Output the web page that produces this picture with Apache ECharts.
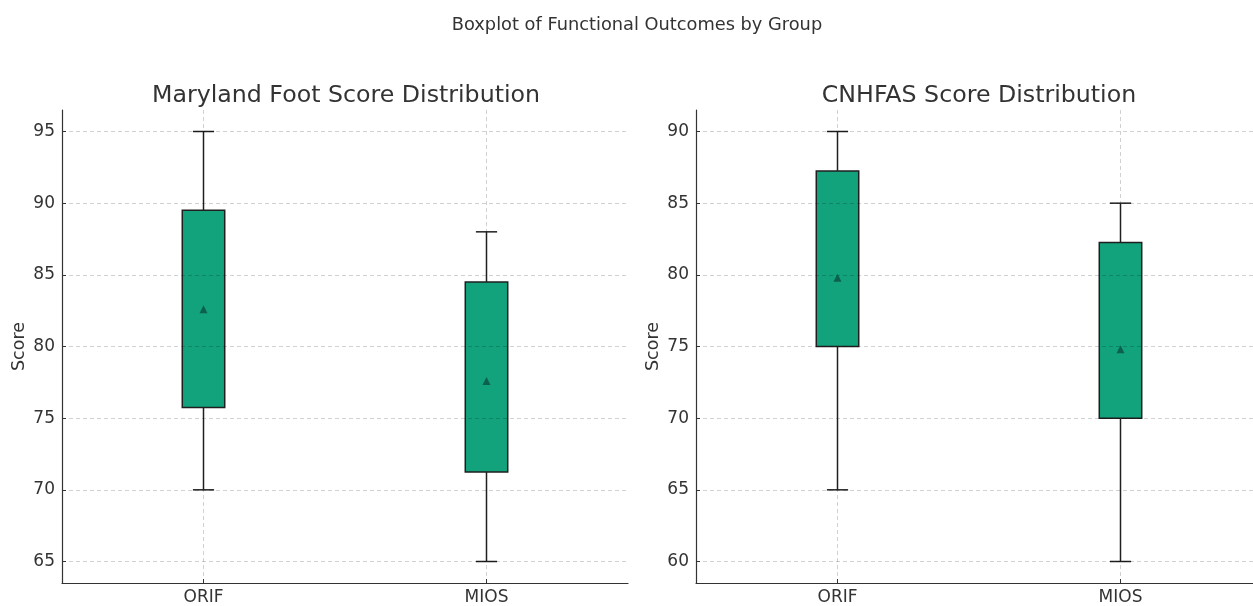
<!DOCTYPE html>
<html>
<head>
<meta charset="utf-8">
<script src="https://cdn.jsdelivr.net/npm/echarts@6/dist/echarts.min.js"></script>
<style>
html,body{margin:0;padding:0;background:#fff;overflow:hidden;}
#chart{width:1270px;height:606px;}
</style>
</head>
<body>
<div id="chart"></div>
<script>
const categories = ['ORIF', 'MIOS'];

// Maryland Foot Score
const marylandMin    = [70, 65];
const marylandQ1     = [75.75, 71.25];
const marylandMedian = [84, 77];
const marylandQ3     = [89.5, 84.5];
const marylandMax    = [95, 88];
const marylandMean   = [82.6, 77.6];

// CNHFAS Score
const cnhfasMin    = [65, 60];
const cnhfasQ1     = [75, 70];
const cnhfasMedian = [80, 75];
const cnhfasQ3     = [87.25, 82.25];
const cnhfasMax    = [90, 85];
const cnhfasMean   = [79.8, 74.8];

// axis ranges (tick labels every 5 inside these)
const maryRange = [63.5, 96.5];
const cnhRange = [58.5, 91.5];

const FILL = '#12a37c';
const EDGE = '#1f1f1f';
const MEANC = '#0b5040';
const FONT = 'DejaVu Sans';

function boxData(mn, q1, md, q3, mx) {
  return categories.map((c, i) => [i, mn[i], q1[i], md[i], q3[i], mx[i]]);
}

function renderBox(params, api) {
  const x = api.value(0);
  const band = api.size([1, 0])[0];
  const bw = band * 0.15;
  const cw = band * 0.075;
  const pMin = api.coord([x, api.value(1)]);
  const pQ1 = api.coord([x, api.value(2)]);
  const pMed = api.coord([x, api.value(3)]);
  const pQ3 = api.coord([x, api.value(4)]);
  const pMax = api.coord([x, api.value(5)]);
  const cx = pMin[0];
  const lineStyle = {stroke: EDGE, lineWidth: 1.5, fill: null};
  return {
    type: 'group',
    children: [
      {type: 'line', shape: {x1: cx, y1: pMax[1], x2: cx, y2: pQ3[1]}, style: lineStyle},
      {type: 'line', shape: {x1: cx, y1: pQ1[1], x2: cx, y2: pMin[1]}, style: lineStyle},
      {type: 'line', shape: {x1: cx - cw / 2, y1: pMax[1], x2: cx + cw / 2, y2: pMax[1]}, style: lineStyle},
      {type: 'line', shape: {x1: cx - cw / 2, y1: pMin[1], x2: cx + cw / 2, y2: pMin[1]}, style: lineStyle},
      {type: 'rect', shape: {x: cx - bw / 2, y: pQ3[1], width: bw, height: pQ1[1] - pQ3[1]},
        style: {fill: FILL, stroke: EDGE, lineWidth: 1.5}},
      {type: 'line', shape: {x1: cx - bw / 2 + 1, y1: pMed[1], x2: cx + bw / 2 - 1, y2: pMed[1]},
        style: {stroke: FILL, lineWidth: 1.5}}
    ]
  };
}

function xAxisCfg(idx) {
  return {
    type: 'category', gridIndex: idx, data: categories, boundaryGap: true,
    axisLine: {show: true, lineStyle: {color: '#333', width: 1.2}},
    axisTick: {show: true, inside: true, alignWithLabel: true, length: 4, lineStyle: {color: '#333'}},
    axisLabel: {color: '#333', fontSize: 17, fontFamily: FONT, margin: 6},
    splitLine: {show: true, alignWithLabel: true, lineStyle: {color: 'rgba(0,0,0,0.18)', type: [4, 3], width: 1}},
    z: 0
  };
}
function yAxisCfg(idx, range) {
  return {
    type: 'value', gridIndex: idx, min: range[0], max: range[1], splitNumber: 5,
    name: 'Score', nameLocation: 'middle', nameGap: 34, nameRotate: 90,
    nameTextStyle: {color: '#333', fontSize: 17.5, fontFamily: FONT},
    axisLine: {show: true, lineStyle: {color: '#333', width: 1.2}},
    axisTick: {show: true, inside: true, length: 4, lineStyle: {color: '#333'}},
    axisLabel: {color: '#333', fontSize: 17, fontFamily: FONT, margin: 7,
      showMinLabel: false, showMaxLabel: false,
      formatter: v => (Number.isInteger(v) ? String(v) : '')},
    splitLine: {show: true, showMinLine: false, showMaxLine: false,
      lineStyle: {color: 'rgba(0,0,0,0.18)', type: [4, 3], width: 1}},
    z: 5
  };
}

const chart = echarts.init(document.getElementById('chart'), null, {renderer: 'canvas'});
chart.setOption({
  backgroundColor: '#fff',
  animation: false,
  title: [
    {text: 'Boxplot of Functional Outcomes by Group', left: 632, top: 11, textAlign: 'center',
      textStyle: {color: '#333', fontSize: 17.8, fontWeight: 'normal', fontFamily: FONT}},
    {text: 'Maryland Foot Score Distribution', left: 341, top: 79, textAlign: 'center',
      textStyle: {color: '#333', fontSize: 23.7, fontWeight: 'normal', fontFamily: FONT}},
    {text: 'CNHFAS Score Distribution', left: 974, top: 79, textAlign: 'center',
      textStyle: {color: '#333', fontSize: 23.7, fontWeight: 'normal', fontFamily: FONT}}
  ],
  grid: [
    {left: 62, top: 110, width: 566, height: 475},
    {left: 696, top: 110, width: 566, height: 475}
  ],
  xAxis: [xAxisCfg(0), xAxisCfg(1)],
  yAxis: [yAxisCfg(0, maryRange), yAxisCfg(1, cnhRange)],
  series: [
    {type: 'custom', xAxisIndex: 0, yAxisIndex: 0, renderItem: renderBox, z: 2,
      encode: {x: 0, y: [1, 2, 3, 4, 5]},
      data: boxData(marylandMin, marylandQ1, marylandMedian, marylandQ3, marylandMax)},
    {type: 'custom', xAxisIndex: 1, yAxisIndex: 1, renderItem: renderBox, z: 2,
      encode: {x: 0, y: [1, 2, 3, 4, 5]},
      data: boxData(cnhfasMin, cnhfasQ1, cnhfasMedian, cnhfasQ3, cnhfasMax)},
    {type: 'scatter', xAxisIndex: 0, yAxisIndex: 0, symbol: 'triangle', symbolSize: 8, z: 10,
      itemStyle: {color: MEANC}, data: categories.map((c, i) => [i, marylandMean[i]])},
    {type: 'scatter', xAxisIndex: 1, yAxisIndex: 1, symbol: 'triangle', symbolSize: 8, z: 10,
      itemStyle: {color: MEANC}, data: categories.map((c, i) => [i, cnhfasMean[i]])}
  ]
});
</script>
</body>
</html>
